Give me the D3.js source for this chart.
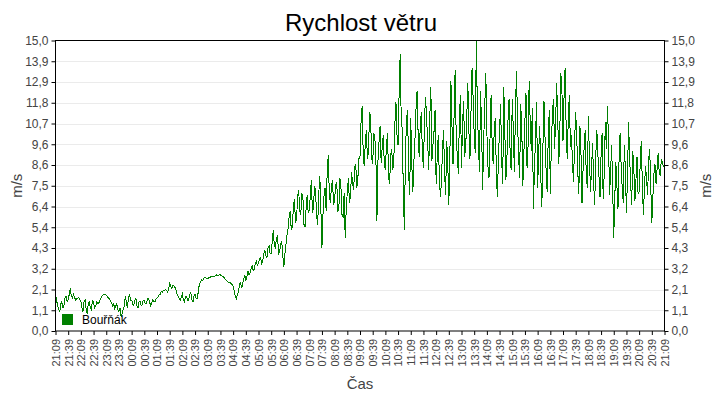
<!DOCTYPE html>
<html>
<head>
<meta charset="utf-8">
<script src="https://cdn.jsdelivr.net/npm/d3@7"></script>
<style>
body { margin: 0; background: #fff; }
text { font-family: "Liberation Sans", Arial, sans-serif; }
</style>
</head>
<body>
<div id="graf"></div>
<script>
var casy = ["21:09","21:39","22:09","22:39","23:09","23:39","00:09","00:39","01:09","01:39",
    "02:09","02:39","03:09","03:39","04:09","04:39","05:09","05:39","06:09","06:39",
    "07:09","07:39","08:09","08:39","09:09","09:39","10:09","10:39","11:09","11:39",
    "12:09","12:39","13:09","13:39","14:09","14:39","15:09","15:39","16:09","16:39",
    "17:09","17:39","18:09","18:39","19:09","19:39","20:09","20:39","21:09"];

var krok = 2.5; // minut mezi body

// jeden řádek = jedna hodina od 21:09
var bournak = [
    1.85,1.6,1.3,1.1,1.0,1.4,1.5,1.2,1.3,1.7,1.8,1.5,1.6,1.9,2.2,1.8,1.7,1.9,1.75,1.6,1.65,1.7,1.75,1.6,
    1.55,1.2,1.0,1.5,1.6,1.1,0.9,1.4,1.5,1.2,1.1,1.6,1.45,1.2,1.3,1.5,1.4,1.45,1.6,1.7,1.8,1.85,1.9,1.9,
    1.85,1.8,1.7,1.65,1.55,1.45,1.3,1.4,1.15,1.3,1.4,1.1,1.0,1.2,0.75,0.9,1.1,1.3,1.8,1.5,1.2,1.7,1.9,1.6,
    1.6,1.4,1.3,1.6,1.7,1.3,1.2,1.5,1.55,1.3,1.35,1.6,1.6,1.4,1.4,1.7,1.7,1.5,1.3,1.45,1.6,1.5,1.5,1.65,
    1.7,1.75,1.85,1.9,2.05,2.0,2.1,2.1,2.15,2.1,2.0,2.2,2.45,2.3,2.2,2.35,2.35,2.25,2.1,1.9,1.8,1.7,1.6,1.75,
    1.9,1.6,1.5,1.8,1.8,1.6,1.6,1.9,2.0,1.6,1.5,1.8,1.9,1.7,1.7,2.0,2.4,2.5,2.65,2.6,2.7,2.75,2.75,2.7,
    2.7,2.75,2.75,2.8,2.85,2.8,2.8,2.85,2.9,2.85,2.85,2.9,2.9,2.85,2.8,2.8,2.7,2.65,2.6,2.55,2.5,2.5,2.45,2.4,
    2.3,2.1,1.8,1.65,1.9,2.0,2.4,2.5,2.2,2.4,2.7,2.9,2.6,2.8,3.1,2.9,3.0,3.2,3.4,3.1,3.2,3.5,3.6,3.4,
    3.5,3.7,3.8,3.5,3.6,4.0,4.2,3.9,3.8,4.3,4.4,4.0,4.0,4.6,5.2,4.4,4.3,4.8,4.9,4.0,4.1,4.5,4.6,3.9,
    3.3,4.0,4.5,5.0,5.3,5.9,6.2,5.2,5.4,6.4,6.8,5.6,5.8,6.9,7.3,6.2,6.0,7.1,6.9,5.5,5.4,6.3,7.0,6.1,
    6.2,7.0,7.8,6.1,6.4,7.5,7.2,5.9,5.5,7.1,8.0,6.3,4.3,6.0,7.0,7.4,6.2,8.3,9.1,7.0,6.6,7.5,7.8,6.5,
    6.8,7.5,7.7,6.2,6.3,7.9,7.4,6.0,5.9,7.1,4.8,6.3,7.2,7.9,6.6,7.0,8.2,7.6,7.3,8.5,8.6,7.4,7.9,8.9,
    9.0,10.8,11.6,9.2,8.5,9.7,10.4,8.9,9.2,11.3,11.1,9.0,8.6,10.2,10.0,9.1,5.7,8.8,9.8,10.6,8.7,9.5,10.1,8.6,
    8.3,9.6,10.2,8.0,7.6,9.1,9.4,8.3,8.9,10.7,11.8,10.1,9.6,12.3,14.3,10.9,10.4,7.1,5.2,9.2,10.9,11.4,8.2,7.0,
    11.0,8.6,7.2,8.8,9.9,11.5,12.4,10.1,9.0,10.6,11.3,9.2,8.4,10.9,12.1,11.0,9.8,8.3,11.0,12.6,8.8,9.6,10.3,11.4,
    7.6,8.9,10.1,8.0,6.9,7.7,9.3,10.4,8.2,7.0,9.8,8.7,6.5,9.0,12.9,10.6,8.6,11.2,13.5,10.0,9.1,8.1,11.0,12.2,
    8.4,10.7,11.9,9.0,9.5,11.1,12.8,10.3,8.9,11.4,13.6,12.0,10.1,9.2,15.0,11.5,9.7,8.2,12.4,10.6,7.3,9.9,11.6,13.3,
    10.3,8.5,7.9,10.0,12.2,9.6,8.6,10.5,11.0,8.0,6.9,9.1,10.4,11.7,8.8,7.6,12.6,10.2,7.8,9.0,10.9,12.0,9.1,8.3,
    12.0,10.4,8.2,11.3,13.4,10.8,9.0,7.9,11.7,10.5,7.5,9.2,10.9,12.3,8.4,9.6,12.9,10.7,9.3,11.5,6.3,8.4,9.9,11.8,
    7.4,9.2,10.6,8.0,6.4,9.5,11.9,10.0,8.3,7.2,9.9,11.4,7.1,9.6,11.2,12.0,9.4,10.8,12.8,11.1,8.6,10.3,13.3,12.4,
    9.8,12.1,13.6,10.4,8.9,11.0,12.2,9.5,10.1,8.6,7.7,9.9,11.3,10.0,8.2,7.1,10.6,9.2,6.6,8.4,9.5,10.4,8.0,7.4,
    11.1,9.0,7.2,8.4,9.7,7.6,6.5,9.0,10.4,9.1,8.0,6.9,9.1,10.2,6.8,8.1,10.8,9.4,11.6,10.0,7.0,8.2,9.6,7.3,
    4.8,6.9,8.7,7.5,6.3,8.8,10.2,8.5,7.4,6.6,9.6,8.3,6.1,8.0,10.8,9.0,7.6,6.5,9.3,8.4,6.7,7.8,9.0,7.1,
    7.2,8.6,9.8,7.7,6.0,7.3,8.5,7.9,7.0,8.8,9.4,7.5,5.6,6.9,8.1,8.6,7.6,8.4,9.2,8.2,8.0,8.9,8.7,8.5,
    8.6
];

var yPopisky = ["0,0","1,1","2,1","3,2","4,3","5,4","6,4","7,5","8,6","9,6",
    "10,7","11,8","12,9","13,9","15,0"];

var w = 720;
var h = 400;
var m = { left: 55.5, right: 664.5, top: 40.5, bottom: 331 };

var svg = d3.select("#graf")
    .append("svg")
    .attr("width", w)
    .attr("height", h);

var x = d3.scaleLinear()
    .domain([0, (casy.length - 1) * 30])
    .range([m.left, m.right]);

var y = d3.scaleLinear()
    .domain([0, 15])
    .range([m.bottom, m.top]);

var yHodnoty = yPopisky.map(function (d, i) { return i * 15 / (yPopisky.length - 1); });
var xHodnoty = casy.map(function (d, i) { return i * 30; });

// mřížka
svg.append("g")
    .selectAll("line")
    .data(yHodnoty.slice(1, -1))
    .enter()
    .append("line")
    .attr("x1", m.left)
    .attr("x2", m.right)
    .attr("y1", function (d) { return Math.round(y(d)) + 0.5; })
    .attr("y2", function (d) { return Math.round(y(d)) + 0.5; })
    .attr("stroke", "#ebebeb");

// čára
var cara = d3.line()
    .x(function (d, i) { return x(i * krok); })
    .y(function (d) { return y(d); });

svg.append("path")
    .datum(bournak)
    .attr("d", cara)
    .attr("fill", "none")
    .attr("stroke", "#008000")
    .attr("stroke-width", 1)
    .attr("shape-rendering", "crispEdges");

// rámeček
svg.append("rect")
    .attr("x", m.left)
    .attr("y", m.top)
    .attr("width", m.right - m.left)
    .attr("height", m.bottom - m.top)
    .attr("fill", "none")
    .attr("stroke", "#000");

function stylOsy(g) {
    g.select(".domain").remove();
    g.selectAll(".tick line").attr("stroke", "#000");
    g.selectAll(".tick text")
        .attr("fill", "#444")
        .style("font-size", "12px");
}

svg.append("g")
    .attr("transform", "translate(" + m.left + ",0)")
    .call(d3.axisLeft(y).tickValues(yHodnoty)
        .tickFormat(function (d, i) { return yPopisky[i]; })
        .tickSize(4).tickPadding(3))
    .call(stylOsy);

svg.append("g")
    .attr("transform", "translate(" + m.right + ",0)")
    .call(d3.axisRight(y).tickValues(yHodnoty)
        .tickFormat(function (d, i) { return yPopisky[i]; })
        .tickSize(4).tickPadding(3))
    .call(stylOsy);

svg.append("g")
    .attr("transform", "translate(0," + m.bottom + ")")
    .call(d3.axisBottom(x).tickValues(xHodnoty)
        .tickFormat(function (d, i) { return casy[i]; })
        .tickSize(4))
    .call(stylOsy)
    .selectAll(".tick text")
    .style("font-size", "11px")
    .attr("transform", "rotate(-90)")
    .attr("x", -8)
    .attr("y", 0)
    .attr("dy", "0.35em")
    .style("text-anchor", "end");

// titulky
svg.append("text")
    .attr("x", 361)
    .attr("y", 31)
    .attr("text-anchor", "middle")
    .style("font-size", "24px")
    .attr("fill", "#000")
    .text("Rychlost větru");

svg.append("text")
    .attr("transform", "translate(22," + (m.top + m.bottom) / 2 + ") rotate(-90)")
    .attr("text-anchor", "middle")
    .style("font-size", "15px")
    .attr("fill", "#444")
    .text("m/s");

svg.append("text")
    .attr("transform", "translate(711," + (m.top + m.bottom) / 2 + ") rotate(-90)")
    .attr("text-anchor", "middle")
    .style("font-size", "15px")
    .attr("fill", "#444")
    .text("m/s");

svg.append("text")
    .attr("x", (m.left + m.right) / 2)
    .attr("y", 389)
    .attr("text-anchor", "middle")
    .style("font-size", "15px")
    .attr("fill", "#444")
    .text("Čas");

// legenda
svg.append("rect")
    .attr("x", 62)
    .attr("y", 314)
    .attr("width", 11)
    .attr("height", 11)
    .attr("fill", "#008000");

svg.append("text")
    .attr("x", 82)
    .attr("y", 324)
    .style("font-size", "12px")
    .attr("fill", "#000")
    .text("Bouřňák");
</script>
</body>
</html>
